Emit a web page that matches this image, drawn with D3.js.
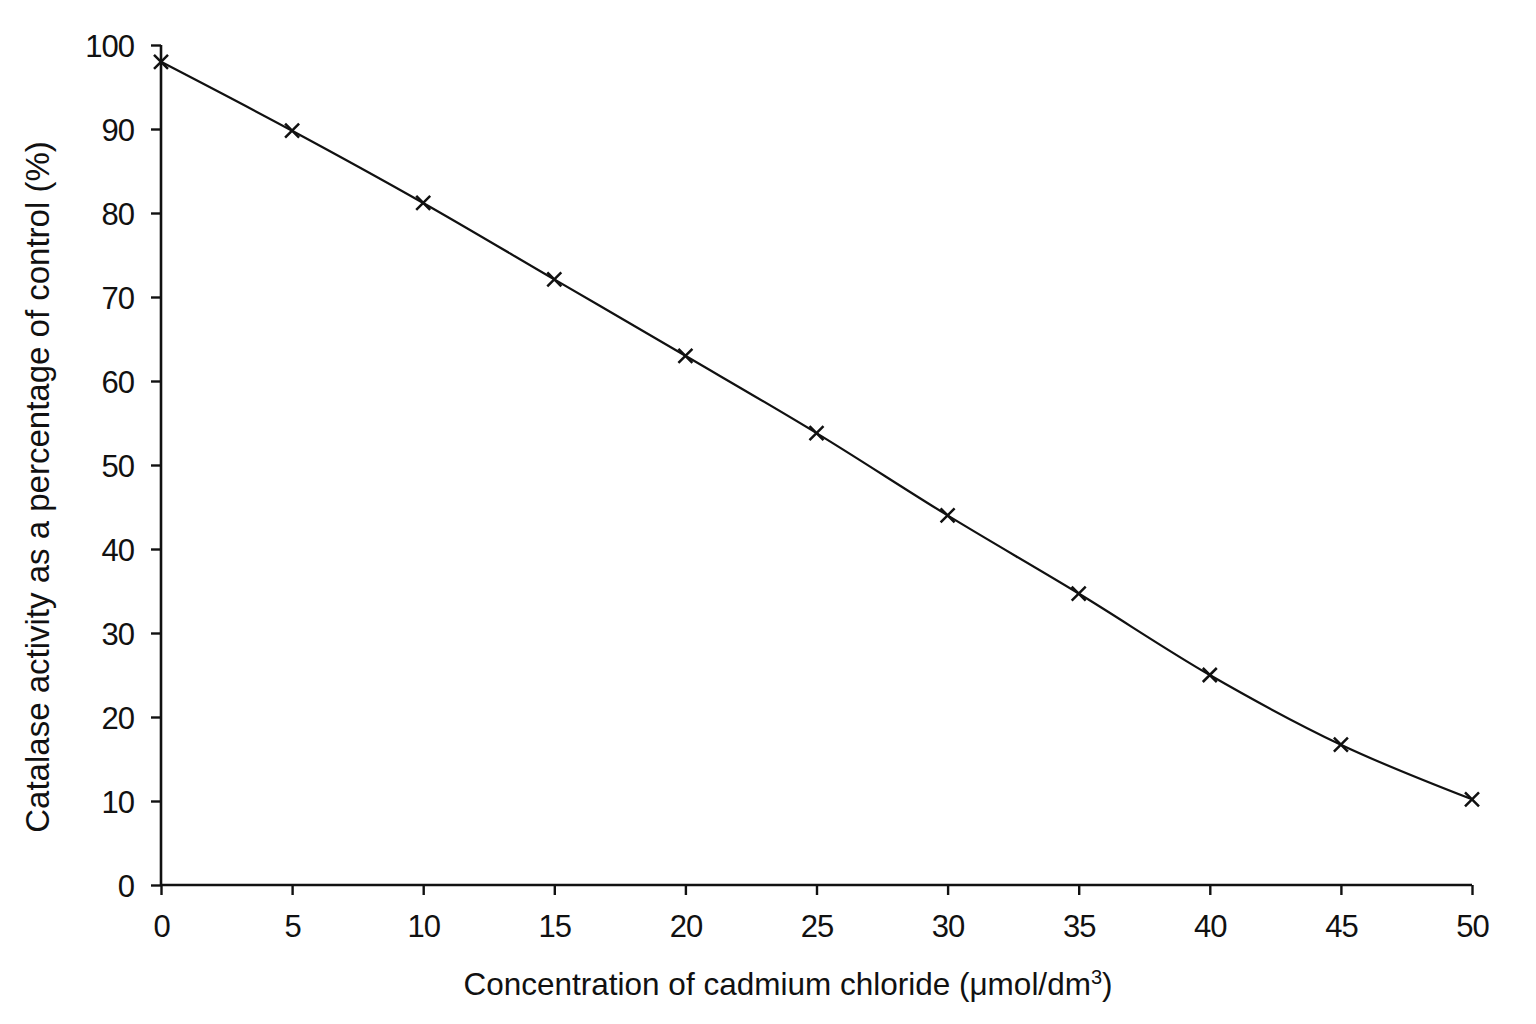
<!DOCTYPE html>
<html>
<head>
<meta charset="utf-8">
<script src="https://cdn.jsdelivr.net/npm/d3@7"></script>
<style>
  body { margin: 0; background: #fff; }
  text { font-family: "Liberation Sans", Arial, sans-serif; fill: #111; }
</style>
</head>
<body>
<svg id="canvas"></svg>
<script>
const concentrations = [0, 5, 10, 15, 20, 25, 30, 35, 40, 45, 50];
const activity = [98.0, 89.8, 81.2, 72.1, 63.0, 53.8, 44.0, 34.7, 25.0, 16.7, 10.2];
const xTicks = [0, 5, 10, 15, 20, 25, 30, 35, 40, 45, 50];
const yTicks = [0, 10, 20, 30, 40, 50, 60, 70, 80, 90, 100];

const width = 1536;
const height = 1024;
const paddingLeft = 161;
const paddingRight = 64;
const paddingTop = 45;
const paddingBottom = 139;

const canvas = d3.select("#canvas")
    .attr("width", width)
    .attr("height", height);

const xScale = d3.scaleLinear()
    .domain([0, 50])
    .range([paddingLeft, width - paddingRight]);

const yScale = d3.scaleLinear()
    .domain([0, 100])
    .range([height - paddingBottom, paddingTop]);

const xAxis = d3.axisBottom(xScale).tickValues(xTicks).tickSize(10).tickPadding(13);
const yAxis = d3.axisLeft(yScale).tickValues(yTicks).tickSize(10).tickPadding(17);

const xg = canvas.append("g")
    .attr("transform", `translate(0, ${height - paddingBottom})`)
    .call(xAxis);

const yg = canvas.append("g")
    .attr("transform", `translate(${paddingLeft}, 0)`)
    .call(yAxis);

[xg, yg].forEach(g => {
    g.select(".domain").attr("stroke", "#111").attr("stroke-width", 2.6);
    g.selectAll(".tick line").attr("stroke", "#111").attr("stroke-width", 2.4);
    g.selectAll(".tick text").attr("font-size", 31).attr("fill", "#111")
        .attr("letter-spacing", -1)
        .attr("font-family", null);
});
xg.selectAll(".tick text").attr("dy", "0.95em");
yg.selectAll(".tick text").attr("dy", "0.36em");

// plain axis lines, no end caps
xg.select(".domain").attr("d", `M${xScale(0)},0H${xScale(50)}`);
yg.select(".domain").attr("d", `M0,${yScale(0)}V${yScale(100)}`);

const points = concentrations.map((c, i) => [c, activity[i]]);

const line = d3.line()
    .x(d => xScale(d[0]))
    .y(d => yScale(d[1]))
    .curve(d3.curveMonotoneX);

canvas.append("path")
    .datum(points)
    .attr("d", line)
    .attr("fill", "none")
    .attr("stroke", "#111")
    .attr("stroke-width", 2.2);

const s = 7;
canvas.selectAll(".marker")
    .data(points)
    .enter()
    .append("path")
    .attr("class", "marker")
    .attr("transform", d => `translate(${xScale(d[0])}, ${yScale(d[1])})`)
    .attr("d", `M${-s},${-s}L${s},${s}M${-s},${s}L${s},${-s}`)
    .attr("stroke", "#111")
    .attr("stroke-width", 2.5)
    .attr("fill", "none");

canvas.append("text")
    .attr("x", 788)
    .attr("y", 995)
    .attr("text-anchor", "middle")
    .attr("font-size", 31.5)
    .html('Concentration of cadmium chloride (\u03bcmol/dm<tspan baseline-shift="super" font-size="20">3</tspan>)');

canvas.append("text")
    .attr("transform", `translate(49, 487) rotate(-90)`)
    .attr("text-anchor", "middle")
    .attr("font-size", 33)
    .text("Catalase activity as a percentage of control (%)");
</script>
</body>
</html>
